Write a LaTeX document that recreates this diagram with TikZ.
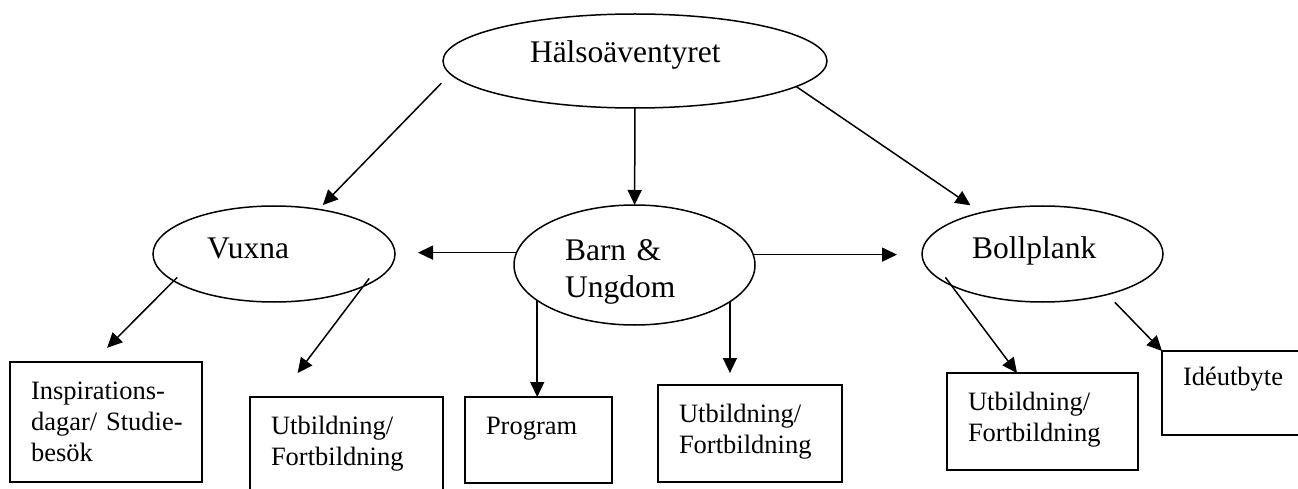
\documentclass[tikz,border=0pt]{standalone}
\usepackage{fontspec}
\setmainfont{Liberation Serif}
\usepackage{tikz}
\usetikzlibrary{arrows.meta}
\usetikzlibrary{shapes.geometric}
\tikzset{arr/.style = {-{Triangle[length=15pt, width=14pt]}, line width = 1.5pt}}
\tikzset{oval/.style = {draw, ellipse, line width = 1.5pt, inner sep = 0pt, outer sep = 0pt,
                        align = left, text height = 22pt, font = \fontsize{31.5}{37}\selectfont}}
\tikzset{box/.style = {draw, rectangle, line width = 1.5pt, anchor = north west,
                       inner xsep = 21pt, inner ysep = 0pt, outer sep = 0pt,
                       align = left, text height = 37pt, font = \fontsize{26.5}{31}\selectfont}}

\begin{document}
\begin{tikzpicture}[x = 1pt, y = -1pt]
        \useasboundingbox (0, 0) rectangle (1298, 489);
        \node (halsa) at (635, 61) [oval, minimum width = 384pt, minimum height = 94pt,
                                    text width = 210pt, text depth = 18pt] {Hälsoäventyret};
        \node (vuxna) at (274, 254) [oval, minimum width = 242pt, minimum height = 96pt,
                                     text width = 134pt, text depth = 14pt] {Vuxna};
        \node (barn) at (634.5, 265) [oval, minimum width = 241pt, minimum height = 120pt,
                                      text width = 139pt, text depth = 32pt] {Barn \&\\Ungdom};
        \node (boll) at (1042.5, 254) [oval, minimum width = 241pt, minimum height = 96pt,
                                       text width = 141pt, text depth = 14pt] {Bollplank};
        \node (insp) at (10, 362) [box, text width = 150pt, text depth = 83pt] {Inspirations-\\\mbox{dagar/ Studie-}\\besök};
        \node (utbv) at (250, 397) [box, text width = 151pt, text depth = 83pt] {Utbildning/\\Fortbildning};
        \node (prog) at (465, 397) [box, text width = 105pt, text depth = 49pt] {Program};
        \node (utbb) at (658, 385) [box, text width = 142pt, text depth = 60pt] {Utbildning/\\Fortbildning};
        \node (utbp) at (947, 373) [box, text width = 149pt, text depth = 60pt] {Utbildning/\\Fortbildning};
        \node (ide) at (1162, 351) [box, text width = 158pt, text height = 34pt, text depth = 50pt] {Idéutbyte};
        \draw [arr, shorten <= 13pt, shorten >= 6pt] (halsa.184.7) -- (vuxna.45);
        \draw [arr] (halsa) -- (barn);
        \draw [arr, shorten >= 13pt] (halsa.351.8) -- (boll.146.2);
        \draw [arr, shorten >= 23pt] (barn.174.2) -- (barn.174.2 -| vuxna.east);
        \draw [arr, shorten >= 25pt] (barn.5.8) -- (barn.5.8 -| boll.west);
        \draw [arr, shorten <= -5pt, shorten >= 20pt] (vuxna.195.4) -- ([xshift = -13pt] insp.north);
        \draw [arr, shorten <= -10pt, shorten >= 30pt] (vuxna.340.3) -- ([xshift = -67pt] utbv.north);
        \draw [arr] (barn.200.4) -- (barn.200.4 |- prog.north);
        \draw [arr, shorten >= 12pt] (barn.339.6) -- (barn.339.6 |- utbb.north);
        \draw [arr, shorten <= -10pt] (boll.199.7) -- ([xshift = -25.5pt] utbp.north);
        \draw [arr, shorten <= 10.8pt] (boll.328) -- (ide.north west);
\end{tikzpicture}
\end{document}
